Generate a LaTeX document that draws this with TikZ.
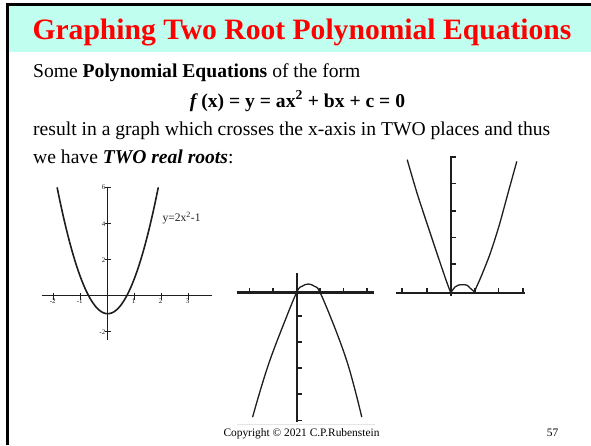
\documentclass[tikz,border=0pt]{standalone}
\usepackage{fontspec}
\setmainfont{Liberation Serif}
\definecolor{headbg}{RGB}{192,255,240}
\definecolor{titlered}{RGB}{255,0,0}
\definecolor{plotink}{RGB}{30,30,30}
\begin{document}
\begin{tikzpicture}[x=1pt,y=-1pt,
  bodytext/.style={inner sep=0pt,anchor=base west,font=\fontsize{19.6}{22}\selectfont},
  axisline/.style={line width=1.5pt,plotink},
  thickaxis/.style={line width=2.4pt,plotink},
  curveline/.style={line width=1.6pt,plotink,line cap=round},
  ticklabel/.style={inner sep=0pt,font=\fontsize{7}{8}\selectfont,plotink},
  tickmark/.style={line width=1.1pt,plotink},
  thicktick/.style={line width=1.6pt,plotink}]
\useasboundingbox (0,0) rectangle (591,445);
% header
\fill[headbg] (9,6) rectangle (591,51.7);
\draw[line width=2.4pt] (7.5,4.6) -- (591,4.6);
\draw[line width=2.8pt] (7.6,3.4) -- (7.6,445);
\node[inner sep=0pt,anchor=base,text=titlered,font=\fontsize{29.6}{32}\selectfont\bfseries] (title) at (302,39.5) {Graphing Two Root Polynomial Equations};
% body text
\node[bodytext] (l1) at (33,77.5) {Some \textbf{Polynomial Equations} of the form};
\node[bodytext,anchor=base] (l2) at (297.5,107) {\textbf{\textit{f}\,(x) = y = ax\textsuperscript{2} + bx + c = 0}};
\node[bodytext] (l3) at (33,135) {result in a graph which crosses the x-axis in TWO places and thus};
\node[bodytext] (l4) at (33,163.5) {we have \textbf{\textit{TWO real roots}}:};
% ---------- graph 1 ----------
\coordinate (g1o) at (107.7,295.7);
\draw[axisline] (41.7,295.7) coordinate (g1xl) -- (211.7,295.7) coordinate (g1xr);
\draw[axisline] (107.7,186.7) coordinate (g1yt) -- (107.7,340) coordinate (g1yb);
\foreach \i/\lab in {-2/-2,-1/-1,1/1,2/2,3/3}{
  \draw[tickmark] (107.7+27*\i,292.5) -- (107.7+27*\i,299.5);
  \node[ticklabel,anchor=north] (g1x\i) at (106.7+27*\i,298.5) {\lab};
}
\foreach \j/\lab in {6/6,4/4,2/2,-2/-2}{
  \draw[tickmark] (104.5,295.7-18*\j) -- (110.9,295.7-18*\j);
  \node[ticklabel,anchor=east] (g1y\j) at (105.5,295.7-18*\j) {\lab};
}
\draw[curveline,domain=-1.87:1.87,samples=60,smooth]
  plot ({107.7+27*\x},{295.7-18*(2*\x*\x-1)});
\node[inner sep=0pt,anchor=west,font=\fontsize{11.5}{13}\selectfont,plotink] (g1lab) at (162.5,218) {y=2x\textsuperscript{2}-1};
% ---------- graph 2 ----------
\draw[thickaxis] (236.7,292.3) coordinate (g2xl) -- (374,292.3) coordinate (g2xr);
\draw[thickaxis] (296.7,273.3) coordinate (g2yt) -- (296.7,421.7) coordinate (g2yb);
\foreach \xx in {249.3,272.7,320,343.3,366.7}{
  \draw[thicktick] (\xx,292.3) -- (\xx,287.5);
}
\foreach \yy in {315.7,341.7,367.7,394,420.5}{
  \draw[thicktick] (296.7,\yy) -- (301.5,\yy);
}
\draw[curveline,line width=1.3pt] plot[smooth,tension=0.6] coordinates {
  (252.7,416.7) (261,388) (270,360) (282.5,327) (296.7,292.3)
  (302,286.3) (308.3,284) (314.5,286.3) (320,292.3)
  (334.5,327) (346.5,360) (354.5,388) (361.7,416.7)};
\draw[gray!20,line width=0.6pt] (237,424.5) coordinate (g2fl) -- (375,424.5) coordinate (g2fr);
% ---------- graph 3 ----------
\draw[thickaxis] (396,292.7) coordinate (g3xl) -- (525,292.7) coordinate (g3xr);
\draw[thickaxis] (450.7,156.2) coordinate (g3yt) -- (450.7,295.5) coordinate (g3yb);
\foreach \xx in {401.7,426.7,475,498.3,522.7}{
  \draw[thicktick] (\xx,292.7) -- (\xx,287.9);
}
\foreach \yy in {157,183.3,210.7,237.3,264}{
  \draw[thicktick] (450.7,\yy) -- (455.5,\yy);
}
\draw[curveline,line width=1.3pt] plot[smooth,tension=0.5] coordinates {
  (407.3,160) (417,193) (427.5,225) (437.5,255) (446,280) (450.7,292.7)};
\draw[curveline,line width=1.3pt] plot[smooth,tension=0.5] coordinates {
  (450.7,292.7) (455,287) (458.5,285) (466.5,285) (470,288) (474.3,291.7)};
\draw[curveline,line width=1.3pt] plot[smooth,tension=0.5] coordinates {
  (474.3,291.7) (480.5,278) (490,254) (499,226) (507.5,195) (516.7,161.7)};
% footer
\node[inner sep=0pt,anchor=base,font=\fontsize{11.4}{13}\selectfont] (copy) at (301.5,436.5) {Copyright \textcopyright{} 2021 C.P.Rubenstein};
\node[inner sep=0pt,anchor=base,font=\fontsize{11.4}{13}\selectfont] (page) at (552.5,436.5) {57};
\end{tikzpicture}
\end{document}
